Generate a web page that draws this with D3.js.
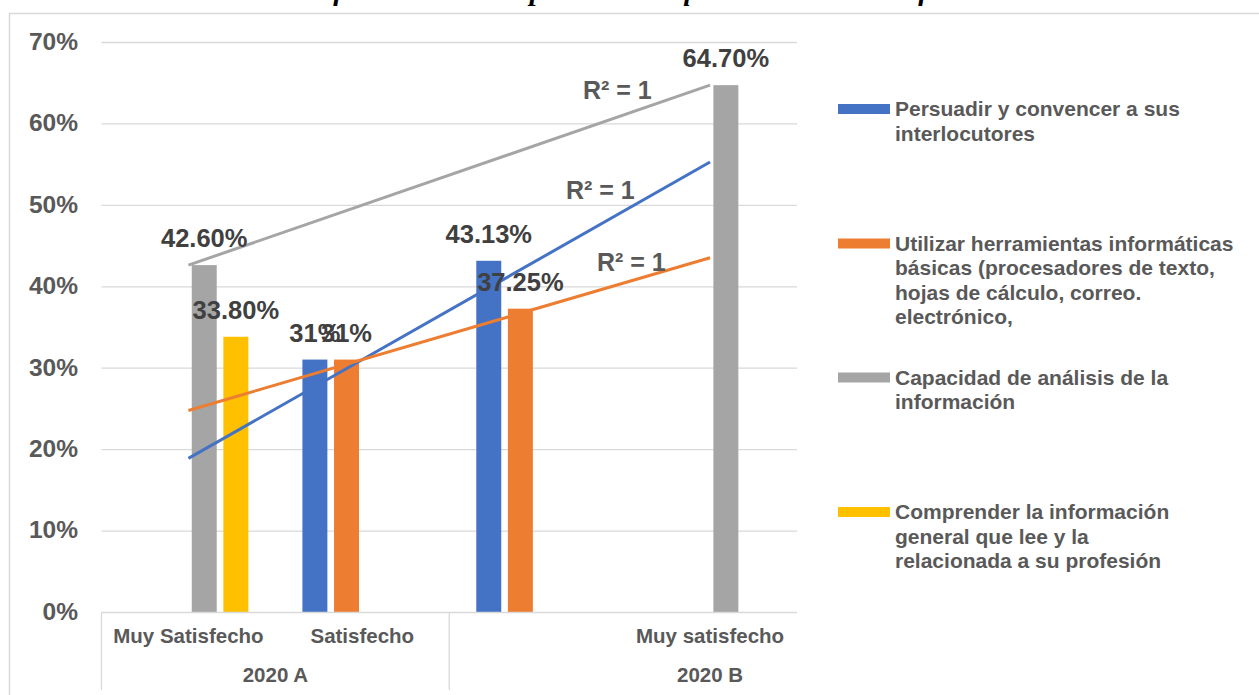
<!DOCTYPE html>
<html>
<head>
<meta charset="utf-8">
<script src="https://cdn.jsdelivr.net/npm/d3@7"></script>
<style>
  body { margin: 0; background: #ffffff; }
  svg { display: block; font-family: "Liberation Sans", Arial, sans-serif; }
</style>
</head>
<body>
<svg id="chart" width="1259" height="695"></svg>
<script>
// ---- data ----
const categories = ["Muy Satisfecho", "Satisfecho", "", "Muy satisfecho"];
const groupLabels = ["2020 A", "2020 B"];
const groupCategoryIndex = [[0, 1], [3, 3]]; // category span each group label is centred on
const seriesNames = [
  "Persuadir y convencer a sus interlocutores",
  "Utilizar herramientas informáticas básicas (procesadores de texto, hojas de cálculo, correo. electrónico,",
  "Capacidad de análisis de la información",
  "Comprender la información general que lee y la relacionada a su profesión"
];
const persuadir  = [null, 31, 43.13, null];
const utilizar   = [null, 31, 37.25, null];
const capacidad  = [42.6, null, null, 64.7];
const comprender = [33.8, null, null, null];
const persuadirLabels  = [null, "31%", "43.13%", null];
const utilizarLabels   = [null, "31%", "37.25%", null];
const capacidadLabels  = ["42.60%", null, null, "64.70%"];
const comprenderLabels = ["33.80%", null, null, null];
const yTicks = [0, 10, 20, 30, 40, 50, 60, 70];
const legendLines = [
  ["Persuadir y convencer a sus", "interlocutores"],
  ["Utilizar herramientas informáticas", "básicas (procesadores de texto,", "hojas de cálculo, correo.", "electrónico,"],
  ["Capacidad de análisis de la", "información"],
  ["Comprender la información", "general que lee y la", "relacionada a su profesión"]
];
const trendSeries = [0, 1, 2]; // series with linear trendlines
const trendLabel = "R² = 1";
const captionText = "Resultados: Nivel de satisfacción con competencias adquiridas durante su formación.";

// ---- styles ----
const colors = ["#4472C4", "#ED7D31", "#A5A5A5", "#FFC000"];
const series = [persuadir, utilizar, capacidad, comprender];
const seriesLabels = [persuadirLabels, utilizarLabels, capacidadLabels, comprenderLabels];

const svg = d3.select("#chart");
const plot = { left: 101.5, right: 797, top: 42, bottom: 612 };

// caption (cut off at top edge as in the reference)
svg.append("text")
  .attr("x", 28).attr("y", 0.3)
  .attr("font-family", "Liberation Serif, Times New Roman, serif")
  .attr("font-style", "italic").attr("font-weight", "bold")
  .attr("font-size", 29).attr("fill", "#000")
  .text(captionText);

// frame
svg.append("path")
  .attr("d", "M9.5,700 L9.5,13.5 L1270,13.5")
  .attr("fill", "none").attr("stroke", "#D9D9D9").attr("stroke-width", 1.5);

// scales
const y = d3.scaleLinear().domain([0, 70]).range([plot.bottom, plot.top]);
const x0 = d3.scaleBand().domain(d3.range(categories.length)).range([plot.left, plot.right]).padding(0);
const x1 = d3.scaleBand().domain(d3.range(series.length)).range([0, x0.bandwidth()])
  .paddingInner(0.21).paddingOuter(0.855);

// gridlines
const grid = svg.append("g").attr("transform", `translate(${plot.left},0)`)
  .call(d3.axisRight(y).tickValues(yTicks.slice(1)).tickSize(plot.right - plot.left).tickFormat(""));
grid.select(".domain").remove();
grid.selectAll("line").attr("stroke", "#D9D9D9").attr("stroke-width", 1.3);

// y axis labels
const yAxis = svg.append("g").attr("transform", "translate(78,0)")
  .call(d3.axisLeft(y).tickValues(yTicks).tickSize(0).tickPadding(0).tickFormat(d => d + "%"));
yAxis.select(".domain").remove();
yAxis.selectAll("text")
  .attr("font-family", "Liberation Sans, Arial, sans-serif")
  .attr("font-size", 24.5).attr("font-weight", "bold").attr("fill", "#595959")
  .attr("dy", "0.3em");

// bars
series.forEach((vals, si) => {
  svg.append("g").selectAll("rect")
    .data(vals.map((v, ci) => ({ v, ci })).filter(d => d.v !== null))
    .join("rect")
    .attr("x", d => x0(d.ci) + x1(si))
    .attr("width", x1.bandwidth())
    .attr("y", d => y(d.v))
    .attr("height", d => y(0) - y(d.v))
    .attr("fill", colors[si]);
});

// x axis line and category dividers
svg.append("line")
  .attr("x1", plot.left).attr("x2", plot.right)
  .attr("y1", plot.bottom + 0.5).attr("y2", plot.bottom + 0.5)
  .attr("stroke", "#D9D9D9").attr("stroke-width", 1.3);
[0, 2].forEach(ci => {
  svg.append("line")
    .attr("x1", x0(ci)).attr("x2", x0(ci))
    .attr("y1", plot.bottom).attr("y2", 690)
    .attr("stroke", "#D9D9D9").attr("stroke-width", 1.3);
});

// category labels
svg.append("g").selectAll("text").data(categories).join("text")
  .attr("x", (d, i) => x0(i) + x0.bandwidth() / 2)
  .attr("y", 643)
  .attr("text-anchor", "middle")
  .attr("font-size", 20.5).attr("font-weight", "bold").attr("fill", "#595959")
  .text(d => d);

// group labels
svg.append("g").selectAll("text").data(groupLabels).join("text")
  .attr("x", (d, i) => (x0(groupCategoryIndex[i][0]) + x0(groupCategoryIndex[i][1]) + x0.bandwidth()) / 2)
  .attr("y", 682)
  .attr("text-anchor", "middle")
  .attr("font-size", 20.5).attr("font-weight", "bold").attr("fill", "#595959")
  .text(d => d);

// trendlines (linear regression over available points, across full category range)
trendSeries.forEach(si => {
  const pts = series[si].map((v, ci) => ({ xv: ci + 1, v })).filter(d => d.v !== null);
  const mx = d3.mean(pts, d => d.xv), my = d3.mean(pts, d => d.v);
  const slope = d3.sum(pts, d => (d.xv - mx) * (d.v - my)) / d3.sum(pts, d => (d.xv - mx) ** 2);
  const icpt = my - slope * mx;
  const ends = [1, categories.length].map(xv => ({ xv, v: icpt + slope * xv }));
  const cx = xv => x0(xv - 1) + x0.bandwidth() / 2;
  svg.append("path")
    .datum(ends)
    .attr("d", d3.line().x(d => cx(d.xv)).y(d => y(d.v)))
    .attr("fill", "none").attr("stroke", colors[si]).attr("stroke-width", 3);
});

// R² labels
const r2Pos = [[566, 199], [597, 271], [583, 99]]; // blue, orange, gray
trendSeries.forEach((si, k) => {
  svg.append("text")
    .attr("x", r2Pos[k][0]).attr("y", r2Pos[k][1])
    .attr("font-size", 25).attr("font-weight", "bold").attr("fill", "#595959")
    .text(trendLabel);
});

// data labels
series.forEach((vals, si) => {
  svg.append("g").selectAll("text")
    .data(vals.map((v, ci) => ({ v, ci, l: seriesLabels[si][ci] })).filter(d => d.v !== null))
    .join("text")
    .attr("x", d => x0(d.ci) + x1(si) + x1.bandwidth() / 2)
    .attr("y", d => y(d.v) - 18)
    .attr("text-anchor", "middle")
    .attr("font-size", 25.5).attr("font-weight", "bold").attr("fill", "#404040")
    .text(d => d.l);
});

// legend
const lg = svg.append("g");
const legendCenters = [109, 243.5, 377.5, 512];
legendLines.forEach((lines, i) => {
  lg.append("rect")
    .attr("x", 838).attr("y", legendCenters[i] - 5)
    .attr("width", 52).attr("height", 10)
    .attr("fill", colors[i]);
  const t = lg.append("text")
    .attr("x", 895).attr("y", legendCenters[i] + 7)
    .attr("font-size", 21).attr("font-weight", "bold").attr("fill", "#595959");
  lines.forEach((ln, j) => {
    t.append("tspan").attr("x", 895).attr("dy", j === 0 ? 0 : 24.5).text(ln);
  });
});
</script>
</body>
</html>
